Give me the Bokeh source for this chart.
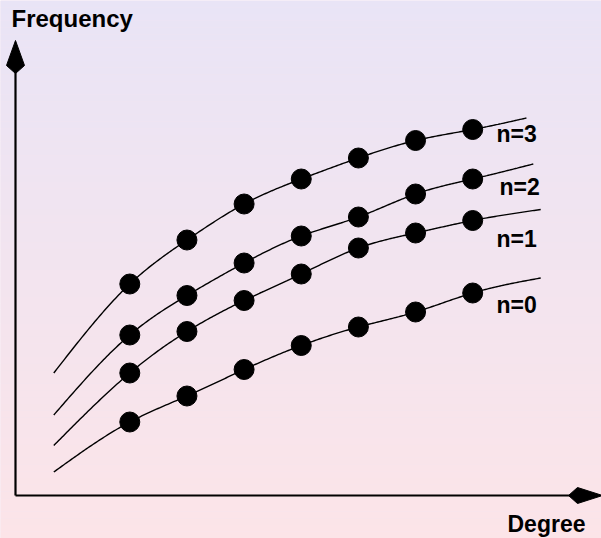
import numpy as np
from bokeh.plotting import figure
from bokeh.models import Label
from bokeh.core.properties import value
from bokeh.embed import file_html
from bokeh.resources import INLINE

# ---- data (Degree on x, Frequency on y, arbitrary units) ----
degree = [2, 3, 4, 5, 6, 7, 8]
freq_n0 = [1.47, 1.99, 2.52, 3.00, 3.37, 3.67, 4.05]
freq_n1 = [2.45, 3.28, 3.90, 4.43, 4.95, 5.25, 5.50]
freq_n2 = [3.21, 4.00, 4.65, 5.19, 5.57, 6.03, 6.33]
freq_n3 = [4.23, 5.11, 5.83, 6.33, 6.75, 7.10, 7.32]
series_labels = ["n=0", "n=1", "n=2", "n=3"]

# fitted-curve extents (start / end of each curve)
curve_start_x = [0.67, 0.67, 0.67, 0.67]
curve_start_y = [0.47, 1.00, 1.61, 2.45]
curve_end_x = [9.19, 9.19, 9.06, 8.94]
curve_end_y = [4.35, 5.72, 6.63, 7.55]

# ---- pixel <-> data helpers (layout only) ----
PX_X0, PX_Y0 = 15.0, 495.0      # picture position of the axis origin
SX, SY = 57.15, 50.0            # pixels per data unit
W, H = 601, 538                 # figure size
TXT_SHIFT = -8                  # text baseline correction

def dx(px):
    return (px - PX_X0) / SX

def dy(py):
    return (PX_Y0 - py) / SY

p = figure(width=W, height=H, output_backend="svg", toolbar_location=None,
           x_range=(dx(0), dx(W)), y_range=(dy(H), dy(0)),
           min_border=0, min_border_left=0, min_border_right=0,
           min_border_top=0, min_border_bottom=0)
p.axis.visible = False
p.grid.visible = False
p.outline_line_color = None

# ---- background gradient (lavender top -> pink bottom) ----
top = np.array([233, 228, 246])
bot = np.array([252, 228, 232])
nstrips = 80
edges = np.linspace(dy(H), dy(0), nstrips + 1)
cols = []
for i in range(nstrips):
    t = (i + 0.5) / nstrips  # 0 bottom, 1 top
    c = bot * (1 - t) + top * t
    cols.append("#%02x%02x%02x" % tuple(int(round(v)) for v in c))
p.quad(left=dx(-10), right=dx(W + 10), bottom=edges[:-1], top=edges[1:],
       fill_color=cols, line_color=None)
p.background_fill_color = "#f3e4ef"
p.border_fill_color = "#f3e4ef"


def natural_spline(xs, ys, n=300):
    xs = np.asarray(xs, float)
    ys = np.asarray(ys, float)
    m = len(xs)
    h = np.diff(xs)
    A = np.zeros((m, m))
    r = np.zeros(m)
    A[0, 0] = 1.0
    A[-1, -1] = 1.0
    for i in range(1, m - 1):
        A[i, i - 1] = h[i - 1]
        A[i, i] = 2 * (h[i - 1] + h[i])
        A[i, i + 1] = h[i]
        r[i] = 6 * ((ys[i + 1] - ys[i]) / h[i] - (ys[i] - ys[i - 1]) / h[i - 1])
    M = np.linalg.solve(A, r)
    xx = np.linspace(xs[0], xs[-1], n)
    yy = np.empty_like(xx)
    for k, x in enumerate(xx):
        i = min(np.searchsorted(xs, x, side="right") - 1, m - 2)
        i = max(i, 0)
        t1 = xs[i + 1] - x
        t0 = x - xs[i]
        hi = h[i]
        yy[k] = (M[i] * t1 ** 3 / (6 * hi) + M[i + 1] * t0 ** 3 / (6 * hi)
                 + (ys[i] / hi - M[i] * hi / 6) * t1
                 + (ys[i + 1] / hi - M[i + 1] * hi / 6) * t0)
    return xx, yy


series = [freq_n0, freq_n1, freq_n2, freq_n3]
for k, ys in enumerate(series):
    cx = [curve_start_x[k]] + degree + [curve_end_x[k]]
    cy = [curve_start_y[k]] + ys + [curve_end_y[k]]
    xx, yy = natural_spline(cx, cy)
    p.line(xx, yy, line_color="black", line_width=1.4)
    p.scatter(degree, ys, size=20, fill_color="black", line_color="black")

# series labels
label_px = [(496, 312.3), (496, 246.7), (499, 194.0), (496, 141.7)]
p.text(x=[dx(a) for a, b in label_px], y=[dy(b + TXT_SHIFT) for a, b in label_px],
       text=series_labels, text_font=value("Liberation Sans"),
       text_font_style="bold", text_font_size="23px", text_color="black",
       text_align="left", text_baseline="alphabetic")

# ---- axes with arrow heads ----
p.line([dx(15), dx(15)], [dy(495), dy(70)], line_color="black", line_width=2.2)
p.line([dx(15), dx(572)], [dy(495), dy(495)], line_color="black", line_width=2.2)
p.patch([dx(15), dx(6), dx(15), dx(24)], [dy(40), dy(65), dy(73), dy(65)],
        fill_color="black", line_color="black", line_width=1)
p.patch([dx(602), dx(577), dx(568), dx(577)], [dy(495), dy(487), dy(495), dy(503)],
        fill_color="black", line_color="black", line_width=1)

# axis titles
p.add_layout(Label(x=dx(11), y=dy(26 + TXT_SHIFT), text="Frequency",
                   text_font="Liberation Sans", text_font_style="bold",
                   text_font_size="24px", text_color="black",
                   text_align="left", text_baseline="alphabetic"))
p.add_layout(Label(x=dx(507), y=dy(531.5 + TXT_SHIFT), text="Degree",
                   text_font="Liberation Sans", text_font_style="bold",
                   text_font_size="23px", text_color="black",
                   text_align="left", text_baseline="alphabetic"))

html = file_html(p, INLINE)
open("out.html", "w").write(html)
